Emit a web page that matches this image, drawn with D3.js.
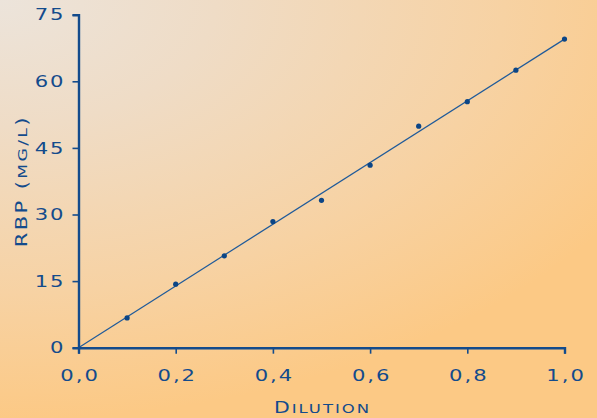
<!DOCTYPE html>
<html><head><meta charset="utf-8">
<script src="https://cdn.jsdelivr.net/npm/d3@7"></script>
<style>
html,body{margin:0;padding:0;background:#fff;}
svg{display:block;}
text{font-family:"DejaVu Sans",sans-serif;fill:#134b8c;}
</style></head>
<body>
<script>
const dilution = [0.1,0.2,0.3,0.4,0.5,0.6,0.7,0.8,0.9,1.0];
const rbp = [6.7,14.3,20.7,28.4,33.2,41.1,49.9,55.4,62.5,69.5];
const fitLine = [[0,0],[1.0,69.5]];
const xTicks = [0,0.2,0.4,0.6,0.8,1.0];
const yTicks = [0,15,30,45,60,75];

const W=597,H=418, SX=1.32;
const svg=d3.select("body").append("svg").attr("width",W).attr("height",H);
const defs=svg.append("defs");
const g=defs.append("radialGradient").attr("id","bg")
  .attr("gradientUnits","userSpaceOnUse").attr("cx",0).attr("cy",0).attr("r",1)
  .attr("gradientTransform","scale(720,420)");
g.append("stop").attr("offset","0").attr("stop-color","#ece4db");
g.append("stop").attr("offset","0.3").attr("stop-color","#efdcc6");
g.append("stop").attr("offset","0.7").attr("stop-color","#f7d2a3");
g.append("stop").attr("offset","1").attr("stop-color","#fcc985");
svg.append("rect").attr("width",W).attr("height",H).attr("fill","url(#bg)");

const x=d3.scaleLinear().domain([0,1]).range([78.5,564.5]);
const y=d3.scaleLinear().domain([0,75]).range([347.7,14.7]);
const col="#134b8c";

// line
svg.append("path").datum(fitLine)
  .attr("d",d3.line().x(d=>x(d[0])).y(d=>y(d[1])))
  .attr("fill","none").attr("stroke","#1f5a9a").attr("stroke-width",1.2);

// axes
const xa=svg.append("g").attr("transform",`translate(0,${y(0)})`)
  .call(d3.axisBottom(x).tickValues(xTicks).tickSize(6).tickPadding(16)
    .tickFormat(d=>d3.format(".1f")(d).replace(".",",")));
const ya=svg.append("g").attr("transform",`translate(${x(0)},0)`)
  .call(d3.axisLeft(y).tickValues(yTicks).tickSize(6).tickPadding(7));
[xa,ya].forEach(a=>{
  a.select(".domain").attr("stroke",col).attr("stroke-width",2.4);
  a.selectAll(".tick line").attr("stroke",col).attr("stroke-width",1.6);
  a.selectAll("text").attr("fill",col).style("font-size","16px").style("letter-spacing","1.5px")
   .attr("font-family","DejaVu Sans");
});
xa.selectAll("text").attr("transform",`scale(${SX},1)`).attr("x",0.8);
ya.selectAll("text").attr("transform",`scale(${SX},1)`).attr("x",-13/SX);

// points
svg.append("g").selectAll("circle").data(dilution).join("circle")
  .attr("cx",d=>x(d)).attr("cy",(d,i)=>y(rbp[i])).attr("r",2.6).attr("fill","#0b4586");

// x label
const xl=svg.append("text")
  .attr("transform",`translate(${(x(0)+x(1))/2+1},413) scale(${SX},1)`)
  .attr("text-anchor","middle").style("letter-spacing","1.5px");
xl.append("tspan").style("font-size","15.5px").text("D");
xl.append("tspan").style("font-size","12.5px").text("ILUTION");

// y label
const yl=svg.append("text").attr("transform",`translate(27,${(y(0)+y(75))/2}) rotate(-90) scale(${SX},1)`)
  .attr("text-anchor","middle").style("letter-spacing","1.8px");
yl.append("tspan").style("font-size","16px").text("RBP (");
yl.append("tspan").style("font-size","13px").text("MG/L");
yl.append("tspan").style("font-size","16px").text(")");
</script>
</body></html>
